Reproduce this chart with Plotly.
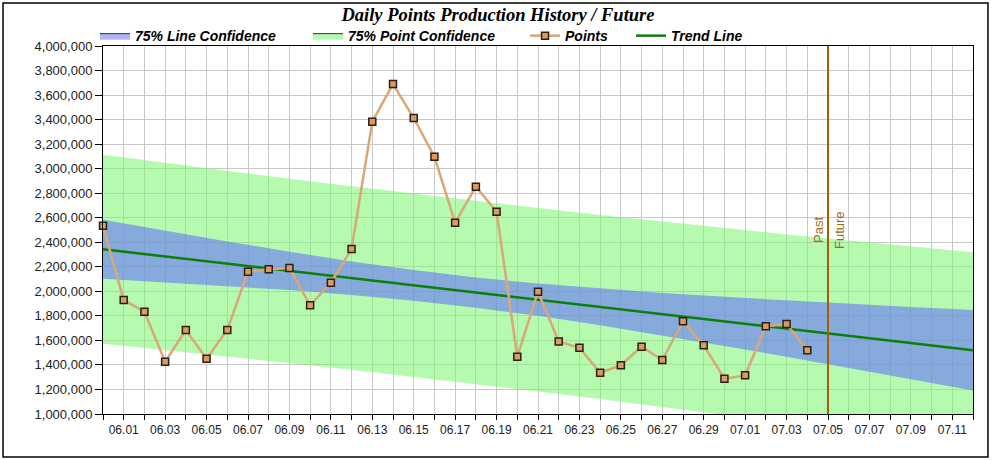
import plotly.graph_objects as go

YEAR = "2010"

# ---- data ----
point_dates = ["05-31", "06-01", "06-02", "06-03", "06-04", "06-05", "06-06", "06-07",
               "06-08", "06-09", "06-10", "06-11", "06-12", "06-13", "06-14", "06-15",
               "06-16", "06-17", "06-18", "06-19", "06-20", "06-21", "06-22", "06-23",
               "06-24", "06-25", "06-26", "06-27", "06-28", "06-29", "06-30", "07-01",
               "07-02", "07-03", "07-04"]
points = [2535000, 1929000, 1834000, 1426000, 1685000, 1450000, 1685000, 2160000,
          2180000, 2190000, 1886000, 2070000, 2345000, 3383000, 3690000, 3413000,
          3097000, 2560000, 2853000, 2649000, 1467000, 1997000, 1592000, 1540000,
          1337000, 1397000, 1549000, 1440000, 1756000, 1560000, 1288000, 1315000,
          1715000, 1734000, 1519000]

band_dates = ["05-31", "06-03", "06-06", "06-09", "06-12", "06-15", "06-18", "06-21",
              "06-24", "06-27", "06-30", "07-03", "07-06", "07-09", "07-12"]
trend = [2343000, 2284000, 2225000, 2167000, 2108000, 2049000, 1990000, 1931000,
         1873000, 1814000, 1755000, 1696000, 1637000, 1579000, 1520000]
line_conf_upper = [2583000, 2494000, 2407000, 2323000, 2244000, 2174000, 2113000, 2063000,
                   2022000, 1986000, 1955000, 1926000, 1899000, 1873000, 1848000]
line_conf_lower = [2103000, 2074000, 2044000, 2010000, 1971000, 1924000, 1867000, 1800000,
                   1724000, 1641000, 1555000, 1466000, 1376000, 1284000, 1192000]
point_conf_upper = [3113000, 3047000, 2982000, 2918000, 2856000, 2795000, 2736000, 2679000,
                    2623000, 2568000, 2515000, 2464000, 2414000, 2365000, 2318000]
point_conf_lower = [1573000, 1522000, 1469000, 1415000, 1360000, 1303000, 1244000, 1184000,
                    1123000, 1059000, 995000, 929000, 861000, 792000, 722000]

divider_date = "07-05"
x_start, x_end = "05-31", "07-12"
y_min, y_max, y_step = 1000000, 4000000, 200000
label_y = 2500000


def d(s):
    return f"{YEAR}-{s}"


px = [d(s) for s in point_dates]
bx = [d(s) for s in band_dates]

legend_font = dict(family="Liberation Sans, Arial", size=14, color="#000000",
                   weight="bold", style="italic")

fig = go.Figure()

# point confidence band (green)
fig.add_trace(go.Scatter(x=bx, y=point_conf_lower, mode="lines", line=dict(width=0),
                         showlegend=False, hoverinfo="skip"))
fig.add_trace(go.Scatter(x=bx, y=point_conf_upper, mode="lines", line=dict(width=0),
                         fill="tonexty", fillcolor="rgba(120,245,110,0.55)",
                         showlegend=False, hoverinfo="skip"))
# line confidence band (blue)
fig.add_trace(go.Scatter(x=bx, y=line_conf_lower, mode="lines", line=dict(width=0),
                         showlegend=False, hoverinfo="skip"))
fig.add_trace(go.Scatter(x=bx, y=line_conf_upper, mode="lines", line=dict(width=0),
                         fill="tonexty", fillcolor="rgba(104,117,250,0.6)",
                         showlegend=False, hoverinfo="skip"))

# legend-only swatches for bands
fig.add_trace(go.Scatter(x=[None], y=[None], mode="lines", fill="toself",
                         fillcolor="#b4b4fa", line=dict(color="#333333", width=1),
                         name="75% Line Confidence", legend="legend"))
fig.add_trace(go.Scatter(x=[None], y=[None], mode="lines", fill="toself",
                         fillcolor="#b4fab0", line=dict(color="#333333", width=1),
                         name="75% Point Confidence", legend="legend2"))

# trend line
fig.add_trace(go.Scatter(x=bx, y=trend, mode="lines", name="Trend Line",
                         line=dict(color="#0a800a", width=2.5), legend="legend4"))

# points
fig.add_trace(go.Scatter(x=px, y=points, mode="lines+markers", name="Points",
                         line=dict(color="#d8a878", width=2.5),
                         marker=dict(symbol="square", size=7, color="#dc9a62",
                                     line=dict(color="#2a2018", width=1.5)),
                         cliponaxis=False, legend="legend3"))

# divider
fig.add_shape(type="line", x0=d(divider_date), x1=d(divider_date), xref="x",
              y0=0, y1=1, yref="paper", line=dict(color="#a85c08", width=2))
fig.add_annotation(x=d(divider_date), y=label_y, text="Past", textangle=-90,
                   showarrow=False, xshift=-10, font=dict(family="Liberation Sans, Arial",
                   size=13, color="#a86a20"))
fig.add_annotation(x=d(divider_date), y=label_y, text="Future", textangle=-90,
                   showarrow=False, xshift=11, font=dict(family="Liberation Sans, Arial",
                   size=13, color="#9a6a18"))

# outer frame
fig.add_shape(type="rect", xref="paper", yref="paper", x0=-0.1149, x1=1.0172,
              y0=-0.1168, y1=1.1168, line=dict(color="#000000", width=1.5),
              fillcolor="rgba(0,0,0,0)", layer="above")

leg_common = dict(orientation="h", yanchor="middle", y=1.027, xanchor="left",
                  font=legend_font, bgcolor="rgba(0,0,0,0)", borderwidth=0,
                  itemclick=False, itemdoubleclick=False)

fig.update_layout(
    width=996, height=460,
    margin=dict(l=103, r=23, t=46, b=46),
    paper_bgcolor="white", plot_bgcolor="white",
    title=dict(text="Daily Points Production History / Future", x=0.5, xref="container",
               xanchor="center", y=1 - 15 / 460, yanchor="middle",
               font=dict(family="Liberation Serif, Times New Roman", size=18.5,
                         color="#000000", weight="bold", style="italic")),
    legend=dict(x=-0.0092, **leg_common),
    legend2=dict(x=0.2356, **leg_common),
    legend3=dict(x=0.4851, **leg_common),
    legend4=dict(x=0.6069, **leg_common),
    xaxis=dict(type="date", range=[d(x_start), d(x_end)],
               tick0=d("06-01"), dtick=2 * 86400000, tickformat="%m.%d",
               ticks="outside", ticklen=5, tickcolor="#000000",
               showgrid=True, gridcolor="#c8c8c8", gridwidth=1,
               minor=dict(dtick=86400000, tick0=d("05-31"), ticks="outside", ticklen=5,
                          tickcolor="#000000", showgrid=True, gridcolor="#c8c8c8"),
               showline=True, linecolor="#000000", linewidth=1, mirror=True,
               tickfont=dict(family="Liberation Sans, Arial", size=12, color="#222222"),
               zeroline=False),
    yaxis=dict(range=[y_min, y_max], dtick=y_step, tick0=y_min, tickformat=",d",
               ticks="outside", ticklen=7, tickcolor="#000000",
               showgrid=True, gridcolor="#c8c8c8", gridwidth=1,
               showline=True, linecolor="#000000", linewidth=1, mirror=True,
               tickfont=dict(family="Liberation Sans, Arial", size=13, color="#222222"),
               zeroline=False),
)

fig.write_html("out.html")
